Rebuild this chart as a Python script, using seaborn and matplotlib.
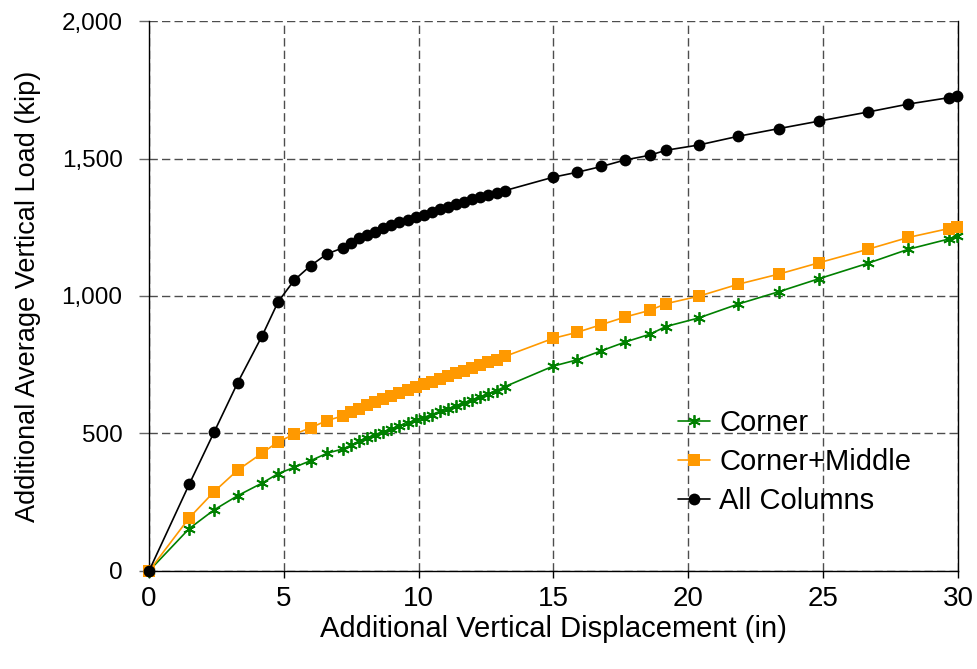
import numpy as np
import pandas as pd
import seaborn as sns
import matplotlib.pyplot as plt

# displacement (in), shared by all three series
disp = [0, 1.49, 2.41, 3.29, 4.20, 4.79, 5.39, 5.99, 6.60,
        7.19, 7.49, 7.79, 8.09, 8.39, 8.69, 8.99, 9.29, 9.59, 9.89,
        10.19, 10.49, 10.79, 11.09, 11.39, 11.69, 11.99, 12.29, 12.59, 12.89, 13.19,
        14.99, 15.88, 16.78, 17.67, 18.58, 19.17, 20.38, 21.86, 23.37, 24.85,
        26.66, 28.16, 29.65, 29.97]

# load (kip)
corner = [0, 154, 222, 274, 320, 354, 377, 401, 428,
          444, 457, 472, 483, 494, 505, 516, 526, 537, 548,
          558, 569, 580, 590, 601, 612, 622, 633, 644, 656, 670,
          745, 768, 801, 833, 861, 889, 920, 971, 1016, 1063,
          1119, 1170, 1207, 1219]
corner_middle = [0, 193, 288, 367, 429, 470, 497, 521, 547,
                 564, 577, 590, 602, 614, 625, 636, 647, 658, 669,
                 679, 689, 699, 709, 719, 729, 739, 749, 759, 769, 780,
                 846, 868, 896, 924, 948, 972, 999, 1043, 1080, 1121,
                 1170, 1213, 1245, 1252]
all_columns = [0, 315, 504, 685, 856, 979, 1058, 1110, 1153,
               1175, 1192, 1210, 1221, 1234, 1246, 1257, 1268, 1278, 1289,
               1296, 1305, 1315, 1325, 1335, 1343, 1351, 1360, 1368, 1376, 1383,
               1432, 1450, 1471, 1495, 1512, 1530, 1549, 1581, 1609, 1636,
               1669, 1698, 1721, 1727]

x_ticks = [0, 5, 10, 15, 20, 25, 30]
y_ticks = [0, 500, 1000, 1500, 2000]

sns.set_theme(style="white")
plt.rcParams["font.family"] = ["Liberation Sans", "DejaVu Sans"]
plt.rcParams["text.color"] = "black"
plt.rcParams["axes.labelcolor"] = "black"
plt.rcParams["xtick.color"] = "black"
plt.rcParams["ytick.color"] = "black"

fig = plt.figure(figsize=(9.77, 6.69), dpi=100)
ax = fig.add_axes([0.1525, 0.1465, 0.828, 0.8221])

styles = [
    ("Corner", corner, "#008000", (6, 2, 0), 9, 1.3),
    ("Corner+Middle", corner_middle, "#FF9900", "s", 8, 0),
    ("All Columns", all_columns, "black", "o", 8.5, 0),
]
for name, vals, col, mk, ms, mew in styles:
    df = pd.DataFrame({"disp": disp, "load": vals})
    sns.lineplot(data=df, x="disp", y="load", ax=ax, color=col, lw=1.2,
                 marker=mk, markersize=ms, markeredgecolor=col,
                 markeredgewidth=mew, label=name, sort=False, clip_on=False,
                 zorder=3)

ax.set_xlim(0, 30)
ax.set_ylim(0, 2000)
ax.set_xticks(x_ticks)
ax.set_yticks(y_ticks)
ax.set_yticklabels([f"{v:,}" for v in y_ticks])
ax.grid(True, color="0.3", linestyle=(0, (6, 3)), linewidth=1)
ax.set_axisbelow(True)

for s in ["left", "bottom", "right"]:
    ax.spines[s].set_visible(True)
    ax.spines[s].set_color("black")
    ax.spines[s].set_linewidth(1)
ax.spines["top"].set_visible(False)

ax.tick_params(axis="x", direction="out", length=5, width=1, color="black",
               labelsize=20, pad=6, bottom=True, labelcolor="black")
ax.tick_params(axis="y", direction="out", length=7, width=1, color="0.4",
               labelsize=17.5, pad=12, left=True, labelcolor="black")

ax.set_xlabel("Additional Vertical Displacement (in)", fontsize=21, labelpad=2)
ax.set_ylabel("Additional Average Vertical Load (kip)", fontsize=19.5, labelpad=15)

leg = ax.legend(loc="upper left", bbox_to_anchor=(0.622, 0.342), frameon=False,
                fontsize=21, handlelength=1.1, handletextpad=0.3,
                labelspacing=0.38)

fig.savefig("out.png", dpi=100)
